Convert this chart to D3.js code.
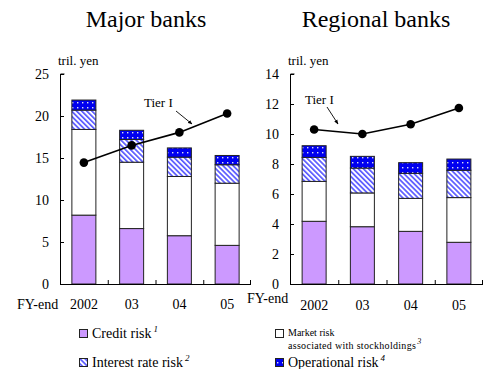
<html>
<head>
<script src="https://cdn.jsdelivr.net/npm/d3@7"></script>
<style>
  body { margin: 0; background: #fff; }
</style>
</head>
<body>
<svg width="484" height="369"></svg>
<script>
var years = ["2002", "03", "04", "05"];
var keys = ["credit", "market", "interest", "operational"];

// trillion yen, per component
var majorCredit = [8.2, 6.6, 5.75, 4.6];
var majorMarket = [10.2, 7.9, 7.05, 7.4];
var majorInterest = [2.3, 2.7, 2.3, 2.2];
var majorOper = [1.2, 1.1, 1.1, 1.1];
var majorTier1 = [14.45, 16.5, 18.05, 20.3];

var regCredit = [4.18, 3.82, 3.51, 2.78];
var regMarket = [2.66, 2.25, 2.2, 2.98];
var regInterest = [1.6, 1.66, 1.67, 1.82];
var regOper = [0.78, 0.78, 0.71, 0.75];
var regTier1 = [10.3, 10.0, 10.65, 11.73];

var majorTicks = [0, 5, 10, 15, 20, 25];
var regTicks = [0, 2, 4, 6, 8, 10, 12, 14];

var svg = d3.select("svg");
var defs = svg.append("defs");

var hatch = defs.append("pattern")
    .attr("id", "hatch")
    .attr("patternUnits", "userSpaceOnUse")
    .attr("width", 3.6).attr("height", 3.6)
    .attr("patternTransform", "rotate(-45)");
hatch.append("rect").attr("width", 3.6).attr("height", 3.6).attr("fill", "#fff");
hatch.append("rect").attr("x", 0).attr("width", 1.7).attr("height", 3.6).attr("fill", "#5a5aff");

var dots = defs.append("pattern")
    .attr("id", "dots")
    .attr("patternUnits", "userSpaceOnUse")
    .attr("width", 5).attr("height", 5);
dots.append("rect").attr("width", 5).attr("height", 5).attr("fill", "#0000f0");
dots.append("rect").attr("x", 2).attr("y", 2).attr("width", 1.4).attr("height", 1.4).attr("fill", "#dde");

var fills = {
    credit: "#cc99ff",
    market: "#ffffff",
    interest: "url(#hatch)",
    operational: "url(#dots)"
};

defs.append("marker")
    .attr("id", "arrow")
    .attr("viewBox", "0 0 10 10")
    .attr("refX", 9).attr("refY", 5)
    .attr("markerWidth", 5).attr("markerHeight", 5)
    .attr("orient", "auto")
    .append("path").attr("d", "M0,1L10,5L0,9z").attr("fill", "#000");

function rows(credit, market, interest, oper) {
    return years.map(function(y, i) {
        return {year: y, credit: credit[i], market: market[i], interest: interest[i], operational: oper[i]};
    });
}

function drawPanel(cfg) {
    var x = d3.scaleBand().domain(years).range([cfg.x0, cfg.x1]).paddingInner(0).paddingOuter(0);
    var y = d3.scaleLinear().domain([0, cfg.max]).range([284, 74]);
    var g = svg.append("g");
    var bw = 24;

    g.append("text")
        .attr("x", cfg.titleX).attr("y", 27)
        .attr("text-anchor", "middle")
        .style("font-size", "24px")
        .text(cfg.title);

    g.append("text")
        .attr("x", cfg.x0 - 2).attr("y", 65)
        .style("font-size", "13px")
        .text("tril. yen");

    var stack = d3.stack().keys(keys)(cfg.data);

    g.selectAll("g.layer")
        .data(stack)
        .enter().append("g")
        .attr("class", "layer")
        .attr("fill", function(d) { return fills[d.key]; })
        .selectAll("rect")
        .data(function(d) { return d; })
        .enter().append("rect")
        .attr("x", function(d) { return x(d.data.year) + x.bandwidth() / 2 - bw / 2; })
        .attr("width", bw)
        .attr("y", function(d) { return y(d[1]); })
        .attr("height", function(d) { return y(d[0]) - y(d[1]); })
        .attr("stroke", "#222")
        .attr("stroke-width", 1);

    // axes
    var yAxis = d3.axisRight(y).tickValues(cfg.ticks).tickSize(4).tickFormat("");
    g.append("g").attr("transform", "translate(" + cfg.x0 + ",0)").call(yAxis)
        .call(function(s) {
            s.select(".domain").attr("d", "M0.5," + y(0) + "V" + y(cfg.max) + "h4");
            s.selectAll("line").attr("stroke", "#000");
        });
    g.selectAll("text.ytick")
        .data(cfg.ticks)
        .enter().append("text")
        .attr("class", "ytick")
        .attr("x", cfg.x0 - 11).attr("y", function(d) { return y(d) + 5; })
        .attr("text-anchor", "end")
        .style("font-size", "14px")
        .text(function(d) { return d; });

    g.append("line")
        .attr("x1", cfg.x0).attr("x2", cfg.x1)
        .attr("y1", y(0) + 0.5).attr("y2", y(0) + 0.5)
        .attr("stroke", "#000");
    g.selectAll("line.xtick")
        .data(years.slice(1).concat(["end"]))
        .enter().append("line")
        .attr("class", "xtick")
        .attr("x1", function(d) { return d == "end" ? cfg.x1 - 0.5 : x(d) + 0.5; })
        .attr("x2", function(d) { return d == "end" ? cfg.x1 - 0.5 : x(d) + 0.5; })
        .attr("y1", y(0)).attr("y2", y(0) - 4)
        .attr("stroke", "#000");

    g.selectAll("text.xlab")
        .data(years)
        .enter().append("text")
        .attr("class", "xlab")
        .attr("x", function(d) { return x(d) + x.bandwidth() / 2; })
        .attr("y", cfg.xlabY)
        .attr("text-anchor", "middle")
        .style("font-size", "14px")
        .text(function(d) { return d; });
    g.append("text")
        .attr("x", cfg.fyX).attr("y", cfg.fyY)
        .style("font-size", "14px")
        .text("FY-end");

    // Tier I line
    var line = d3.line()
        .x(function(d, i) { return x(years[i]) + x.bandwidth() / 2; })
        .y(function(d) { return y(d); });
    g.append("path").datum(cfg.tier1)
        .attr("d", line)
        .attr("fill", "none")
        .attr("stroke", "#000")
        .attr("stroke-width", 1.6);
    g.selectAll("circle")
        .data(cfg.tier1)
        .enter().append("circle")
        .attr("cx", function(d, i) { return x(years[i]) + x.bandwidth() / 2; })
        .attr("cy", function(d) { return y(d); })
        .attr("r", 4.3)
        .attr("fill", "#000");

    g.append("text")
        .attr("x", cfg.tierLabel[0]).attr("y", cfg.tierLabel[1])
        .style("font-size", "13px")
        .text("Tier I");
    var a = cfg.arrow;
    g.append("line")
        .attr("x1", a[0]).attr("y1", a[1]).attr("x2", a[2]).attr("y2", a[3])
        .attr("stroke", "#000").attr("stroke-width", 0.9)
        .attr("marker-end", "url(#arrow)");
}

drawPanel({
    title: "Major banks", titleX: 146,
    data: rows(majorCredit, majorMarket, majorInterest, majorOper),
    tier1: majorTier1, max: 25, ticks: majorTicks,
    x0: 60, x1: 251, xlabY: 309, fyX: 17, fyY: 309,
    tierLabel: [144, 107], arrow: [176, 111, 192, 124]
});

drawPanel({
    title: "Regional banks", titleX: 376,
    data: rows(regCredit, regMarket, regInterest, regOper),
    tier1: regTier1, max: 14, ticks: regTicks,
    x0: 290, x1: 483, xlabY: 310, fyX: 247, fyY: 303,
    tierLabel: [305, 104], arrow: [327, 107, 338, 124]
});

// legend
var legend = [
    {key: "credit", x: 79, y: 329, ty: 338, label: "Credit risk", sup: "1", size: 14},
    {key: "interest", x: 79, y: 358, ty: 367, label: "Interest rate risk", sup: "2", size: 14},
    {key: "market", x: 275, y: 329, ty: 336, label: "Market risk", sup: null, size: 10},
    {key: "operational", x: 275, y: 358, ty: 367, label: "Operational risk", sup: "4", size: 14}
];
var lg = svg.append("g");
lg.selectAll("rect")
    .data(legend)
    .enter().append("rect")
    .attr("x", function(d) { return d.x + 0.5; })
    .attr("y", function(d) { return d.y + 0.5; })
    .attr("width", 8).attr("height", 8)
    .attr("fill", function(d) { return fills[d.key]; })
    .attr("stroke", "#222");
var lt = lg.selectAll("text.lab")
    .data(legend)
    .enter().append("text")
    .attr("class", "lab")
    .attr("x", function(d) { return d.x + 13; })
    .attr("y", function(d) { return d.ty; })
    .style("font-size", function(d) { return d.size + "px"; })
    .text(function(d) { return d.label; });
lt.filter(function(d) { return d.sup; })
    .append("tspan")
    .attr("dx", 2).attr("dy", -6)
    .style("font-size", "9px")
    .style("font-style", "italic")
    .text(function(d) { return d.sup; });
lg.append("text")
    .attr("x", 288).attr("y", 349)
    .style("font-size", "10px")
    .style("letter-spacing", "0.3px")
    .text("associated with stockholdings")
    .append("tspan")
    .attr("dx", 1).attr("dy", -5)
    .style("font-size", "8px")
    .style("font-style", "italic")
    .text("3");

svg.selectAll("text").style("font-family", "Liberation Serif").attr("fill", "#000");
</script>
</body>
</html>
